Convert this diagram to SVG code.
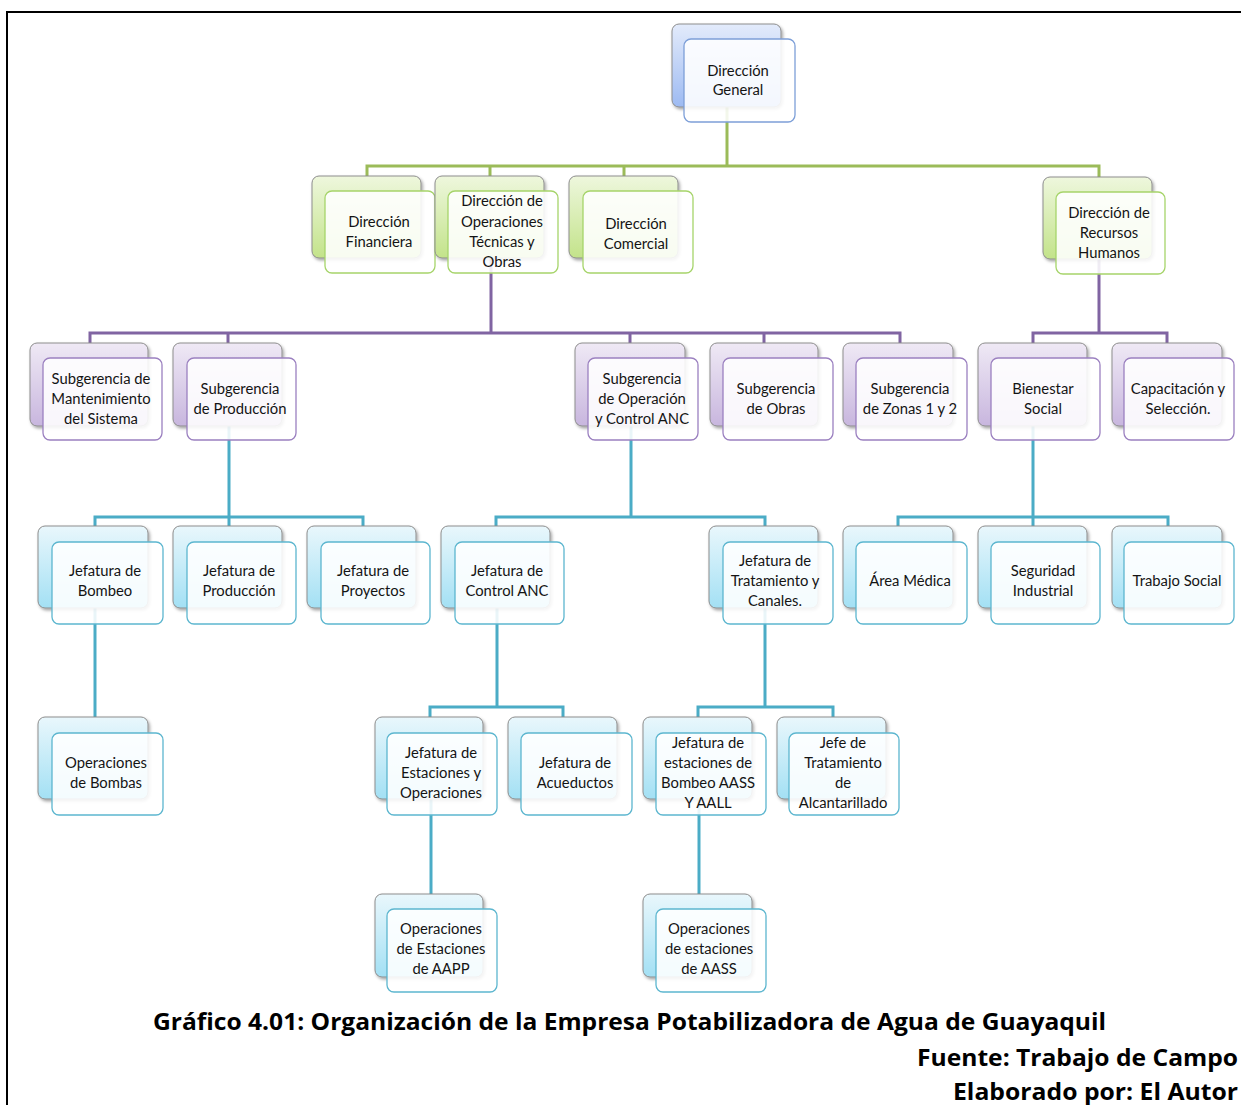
<svg xmlns="http://www.w3.org/2000/svg" width="1241" height="1105" viewBox="0 0 1241 1105">
<defs>
<linearGradient id="gBlue" x1="0" y1="0" x2="0" y2="1"><stop offset="0" stop-color="#e3ebfb"/><stop offset="1" stop-color="#9dbaf2"/></linearGradient>
<linearGradient id="gGreen" x1="0" y1="0" x2="0" y2="1"><stop offset="0" stop-color="#eef7dd"/><stop offset="1" stop-color="#c3e38a"/></linearGradient>
<linearGradient id="gPurple" x1="0" y1="0" x2="0" y2="1"><stop offset="0" stop-color="#efe9f5"/><stop offset="1" stop-color="#c8b6de"/></linearGradient>
<linearGradient id="gCyan" x1="0" y1="0" x2="0" y2="1"><stop offset="0" stop-color="#e9f7fc"/><stop offset="1" stop-color="#a3e0f4"/></linearGradient>
<filter id="sh" x="-10%" y="-10%" width="125%" height="130%"><feDropShadow dx="1.5" dy="2" stdDeviation="1.5" flood-color="#000" flood-opacity="0.35"/></filter>
</defs>
<style>
.back{stroke:#8d8d8d;stroke-width:1;filter:url(#sh)}
.front{fill:#fff;fill-opacity:0.88;stroke-width:1.3}
.b .back{fill:url(#gBlue)} .b .front{stroke:#7d9fd8}
.g .back{fill:url(#gGreen)} .g .front{stroke:#a6d46a}
.p .back{fill:url(#gPurple)} .p .front{stroke:#9b80c0}
.c .back{fill:url(#gCyan)} .c .front{stroke:#5cb6cf}
.t{font-family:Lato,"Open Sans","DejaVu Sans",sans-serif;font-size:14.8px;fill:#141414;text-anchor:middle}
.cg{stroke:#9bbb59;stroke-width:3;fill:none}
.cp{stroke:#8064a2;stroke-width:3;fill:none}
.cc{stroke:#4bacc6;stroke-width:3;fill:none}
.cap{font-family:"Open Sans","Liberation Sans",sans-serif;font-weight:bold;fill:#000}
</style>
<rect width="1241" height="1105" fill="#fff"/>
<path d="M7,1105 V12 H1241" stroke="#000" stroke-width="2" fill="none"/>
<g id="connectors">
<path class="cg" d="M727,66 V166 M367,176 V166 H1099 V177 M490,166 V176 M624,166 V176"/>
<path class="cp" d="M491,217 V333 M90,343 V333 H900 V343 M228,333 V343 M630,333 V343 M764,333 V343"/>
<path class="cp" d="M1099,217 V333 M1033,343 V333 H1167 V343"/>
<path class="cc" d="M229,385 V517 M95,526 V517 H363 V526 M229,517 V526"/>
<path class="cc" d="M631,385 V517 M496,526 V517 H765 V526"/>
<path class="cc" d="M1033,385 V517 M898,526 V517 H1168 V526 M1033,517 V526"/>
<path class="cc" d="M95,567 V717"/>
<path class="cc" d="M497,567 V707 M430,717 V707 H563 V717"/>
<path class="cc" d="M765,567 V707 M698,717 V707 H833 V717"/>
<path class="cc" d="M431,758 V894"/>
<path class="cc" d="M699,758 V894"/>
</g>
<g id="n-dg" class="b"><rect class="back" x="672" y="24" width="109" height="83" rx="7"/><rect class="front" x="684" y="39" width="111" height="83" rx="7"/><text class="t"><tspan x="738" y="76">Dirección</tspan><tspan x="738" y="95">General</tspan></text></g>
<g id="n-fin" class="g"><rect class="back" x="312" y="176" width="109" height="82" rx="7"/><rect class="front" x="325" y="191" width="110" height="82" rx="7"/><text class="t"><tspan x="379" y="227">Dirección</tspan><tspan x="379" y="247">Financiera</tspan></text></g>
<g id="n-ops" class="g"><rect class="back" x="435" y="176" width="109" height="82" rx="7"/><rect class="front" x="448" y="191" width="110" height="82" rx="7"/><text class="t"><tspan x="502" y="206">Dirección de</tspan><tspan x="502" y="227">Operaciones</tspan><tspan x="502" y="247">Técnicas y</tspan><tspan x="502" y="267">Obras</tspan></text></g>
<g id="n-com" class="g"><rect class="back" x="569" y="176" width="109" height="82" rx="7"/><rect class="front" x="583" y="191" width="110" height="82" rx="7"/><text class="t"><tspan x="636" y="229">Dirección</tspan><tspan x="636" y="249">Comercial</tspan></text></g>
<g id="n-rrhh" class="g"><rect class="back" x="1043" y="177" width="109" height="82" rx="7"/><rect class="front" x="1056" y="192" width="109" height="82" rx="7"/><text class="t"><tspan x="1109" y="218">Dirección de</tspan><tspan x="1109" y="238">Recursos</tspan><tspan x="1109" y="258">Humanos</tspan></text></g>
<g id="n-mant" class="p"><rect class="back" x="30" y="343" width="118" height="83" rx="7"/><rect class="front" x="43" y="358" width="119" height="82" rx="7"/><text class="t"><tspan x="101" y="384">Subgerencia  de</tspan><tspan x="101" y="404">Mantenimiento</tspan><tspan x="101" y="424">del Sistema</tspan></text></g>
<g id="n-prod" class="p"><rect class="back" x="173" y="343" width="109" height="83" rx="7"/><rect class="front" x="187" y="358" width="109" height="82" rx="7"/><text class="t"><tspan x="240" y="394">Subgerencia</tspan><tspan x="240" y="414">de Producción</tspan></text></g>
<g id="n-opc" class="p"><rect class="back" x="575" y="343" width="110" height="83" rx="7"/><rect class="front" x="588" y="358" width="110" height="82" rx="7"/><text class="t"><tspan x="642" y="384">Subgerencia</tspan><tspan x="642" y="404">de Operación</tspan><tspan x="642" y="424">y Control ANC</tspan></text></g>
<g id="n-obras" class="p"><rect class="back" x="710" y="343" width="108" height="83" rx="7"/><rect class="front" x="723" y="358" width="110" height="82" rx="7"/><text class="t"><tspan x="776" y="394">Subgerencia</tspan><tspan x="776" y="414">de Obras</tspan></text></g>
<g id="n-zonas" class="p"><rect class="back" x="843" y="343" width="110" height="83" rx="7"/><rect class="front" x="856" y="358" width="111" height="82" rx="7"/><text class="t"><tspan x="910" y="394">Subgerencia</tspan><tspan x="910" y="414">de Zonas 1 y 2</tspan></text></g>
<g id="n-bien" class="p"><rect class="back" x="978" y="343" width="109" height="83" rx="7"/><rect class="front" x="991" y="358" width="109" height="82" rx="7"/><text class="t"><tspan x="1043" y="394">Bienestar</tspan><tspan x="1043" y="414">Social</tspan></text></g>
<g id="n-cap" class="p"><rect class="back" x="1112" y="343" width="110" height="83" rx="7"/><rect class="front" x="1124" y="358" width="110" height="82" rx="7"/><text class="t"><tspan x="1178" y="394">Capacitación y</tspan><tspan x="1178" y="414">Selección.</tspan></text></g>
<g id="n-jbomb" class="c"><rect class="back" x="38" y="526" width="110" height="82" rx="7"/><rect class="front" x="52" y="542" width="111" height="82" rx="7"/><text class="t"><tspan x="105" y="576">Jefatura de</tspan><tspan x="105" y="596">Bombeo</tspan></text></g>
<g id="n-jprod" class="c"><rect class="back" x="173" y="526" width="109" height="82" rx="7"/><rect class="front" x="187" y="542" width="109" height="82" rx="7"/><text class="t"><tspan x="239" y="576">Jefatura de</tspan><tspan x="239" y="596">Producción</tspan></text></g>
<g id="n-jproy" class="c"><rect class="back" x="307" y="526" width="109" height="82" rx="7"/><rect class="front" x="321" y="542" width="109" height="82" rx="7"/><text class="t"><tspan x="373" y="576">Jefatura de</tspan><tspan x="373" y="596">Proyectos</tspan></text></g>
<g id="n-jcanc" class="c"><rect class="back" x="441" y="526" width="109" height="82" rx="7"/><rect class="front" x="455" y="542" width="109" height="82" rx="7"/><text class="t"><tspan x="507" y="576">Jefatura de</tspan><tspan x="507" y="596">Control ANC</tspan></text></g>
<g id="n-jtrat" class="c"><rect class="back" x="709" y="526" width="109" height="82" rx="7"/><rect class="front" x="723" y="542" width="110" height="82" rx="7"/><text class="t"><tspan x="775" y="566">Jefatura de</tspan><tspan x="775" y="586">Tratamiento y</tspan><tspan x="775" y="606">Canales.</tspan></text></g>
<g id="n-amed" class="c"><rect class="back" x="843" y="526" width="110" height="82" rx="7"/><rect class="front" x="856" y="542" width="111" height="82" rx="7"/><text class="t"><tspan x="910" y="586">Área Médica</tspan></text></g>
<g id="n-seg" class="c"><rect class="back" x="978" y="526" width="109" height="82" rx="7"/><rect class="front" x="991" y="542" width="109" height="82" rx="7"/><text class="t"><tspan x="1043" y="576">Seguridad</tspan><tspan x="1043" y="596">Industrial</tspan></text></g>
<g id="n-trab" class="c"><rect class="back" x="1112" y="526" width="110" height="82" rx="7"/><rect class="front" x="1124" y="542" width="110" height="82" rx="7"/><text class="t"><tspan x="1177" y="586">Trabajo Social</tspan></text></g>
<g id="n-opbomb" class="c"><rect class="back" x="38" y="717" width="110" height="82" rx="7"/><rect class="front" x="52" y="733" width="111" height="82" rx="7"/><text class="t"><tspan x="106" y="768">Operaciones</tspan><tspan x="106" y="788">de Bombas</tspan></text></g>
<g id="n-jest" class="c"><rect class="back" x="375" y="717" width="108" height="82" rx="7"/><rect class="front" x="387" y="733" width="110" height="82" rx="7"/><text class="t"><tspan x="441" y="758">Jefatura de</tspan><tspan x="441" y="778">Estaciones y</tspan><tspan x="441" y="798">Operaciones</tspan></text></g>
<g id="n-jacu" class="c"><rect class="back" x="508" y="717" width="109" height="82" rx="7"/><rect class="front" x="521" y="733" width="111" height="82" rx="7"/><text class="t"><tspan x="575" y="768">Jefatura de</tspan><tspan x="575" y="788">Acueductos</tspan></text></g>
<g id="n-jestb" class="c"><rect class="back" x="643" y="717" width="109" height="82" rx="7"/><rect class="front" x="656" y="733" width="110" height="82" rx="7"/><text class="t"><tspan x="708" y="748">Jefatura de</tspan><tspan x="708" y="768">estaciones de</tspan><tspan x="708" y="788">Bombeo AASS</tspan><tspan x="708" y="808">Y AALL</tspan></text></g>
<g id="n-jefe" class="c"><rect class="back" x="777" y="717" width="109" height="82" rx="7"/><rect class="front" x="789" y="733" width="110" height="82" rx="7"/><text class="t"><tspan x="843" y="748">Jefe de</tspan><tspan x="843" y="768">Tratamiento</tspan><tspan x="843" y="788">de</tspan><tspan x="843" y="808">Alcantarillado</tspan></text></g>
<g id="n-opaapp" class="c"><rect class="back" x="375" y="894" width="108" height="83" rx="7"/><rect class="front" x="387" y="909" width="110" height="83" rx="7"/><text class="t"><tspan x="441" y="934">Operaciones</tspan><tspan x="441" y="954">de Estaciones</tspan><tspan x="441" y="974">de AAPP</tspan></text></g>
<g id="n-opaass" class="c"><rect class="back" x="643" y="894" width="109" height="83" rx="7"/><rect class="front" x="656" y="909" width="110" height="83" rx="7"/><text class="t"><tspan x="709" y="934">Operaciones</tspan><tspan x="709" y="954">de estaciones</tspan><tspan x="709" y="974">de AASS</tspan></text></g>
<text class="cap" x="153" y="1030" font-size="24" textLength="953" lengthAdjust="spacingAndGlyphs">Gráfico 4.01: Organización de la Empresa Potabilizadora de Agua de Guayaquil</text>
<text class="cap" x="917" y="1066" font-size="24" textLength="321" lengthAdjust="spacingAndGlyphs">Fuente: Trabajo de Campo</text>
<text class="cap" x="953" y="1100" font-size="24" textLength="285" lengthAdjust="spacingAndGlyphs">Elaborado por: El Autor</text>
</svg>
